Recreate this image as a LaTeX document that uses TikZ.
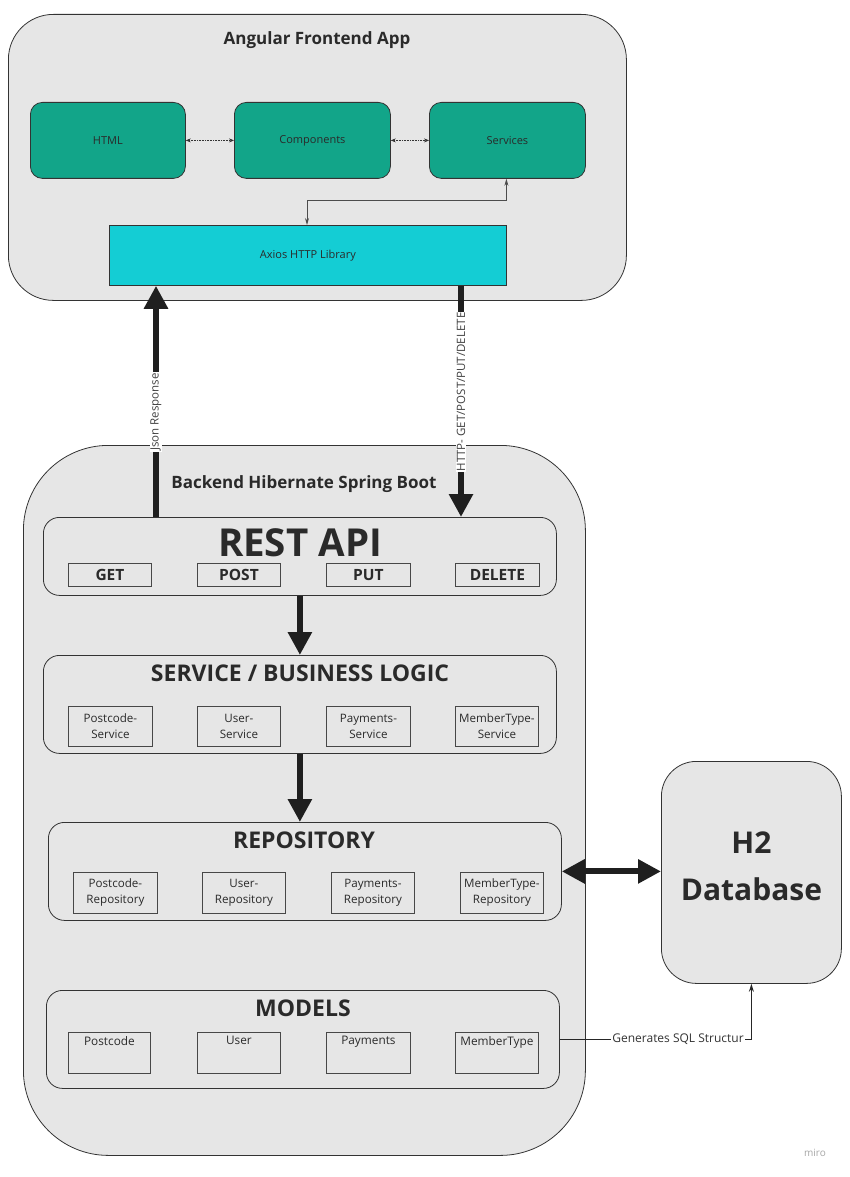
\documentclass[tikz,border=0pt]{standalone}
\usepackage{fontspec}
\setmainfont{Open Sans}
\usetikzlibrary{arrows.meta}
\definecolor{bgfill}{HTML}{E6E6E6}
\definecolor{edgec}{HTML}{333333}
\definecolor{greenfill}{HTML}{12A589}
\definecolor{cyanfill}{HTML}{14CDD4}
\definecolor{txtc}{HTML}{2A2A2A}
\begin{document}
\begin{tikzpicture}[x=1pt,y=-1pt,
  box/.style={draw=edgec, line width=0.8pt, inner sep=0pt, anchor=north west},
  group/.style={box, fill=bgfill},
  layer/.style={box, fill=bgfill, rounded corners=16pt},
  greenbox/.style={box, fill=greenfill, rounded corners=12pt, minimum width=156pt, minimum height=76pt, font=\fontsize{11}{13}\selectfont, text=txtc},
  subbox/.style={box, draw=edgec!90, line width=0.9pt, minimum width=83pt, minimum height=40pt, align=center, font=\fontsize{11.6}{16}\selectfont, text=txtc},
  verbbox/.style={box, draw=edgec!90, line width=0.9pt, minimum width=84pt, minimum height=23pt, font=\bfseries\fontsize{15.5}{17}\selectfont, text=txtc},
  titletext/.style={font=\bfseries\fontsize{17}{20}\selectfont, text=txtc},
  layertitle/.style={font=\bfseries\fontsize{23}{26}\selectfont, text=txtc},
  modeltext/.style={anchor=north, inner sep=0pt, font=\fontsize{11.8}{13}\selectfont, text=txtc},
  bigarrow/.style={line width=6pt, draw=black!88, -{Triangle[width=23pt,length=23pt]}},
  bigdouble/.style={line width=6pt, draw=black!88, {Triangle[width=23pt,length=23pt]}-{Triangle[width=23pt,length=23pt]}},
  dotarrow/.style={line width=0.6pt, draw=black!80, densely dotted, {Stealth[length=5pt,width=4pt]}-{Stealth[length=5pt,width=4pt]}},
  thinarrow/.style={line width=0.8pt, draw=black!70, {Stealth[length=7pt,width=4pt]}-{Stealth[length=7pt,width=4pt]}},
  sqlarrow/.style={line width=1.2pt, draw=black!85, -{Stealth[length=8pt,width=5pt]}},
  vlabel/.style={rotate=90, fill=white, inner sep=1pt, font=\fontsize{11.5}{13}\selectfont, text=black!75}
]
\useasboundingbox (0,0) rectangle (849,1177);

% ---------------- Frontend ----------------
\node[group, rounded corners=45pt, minimum width=618pt, minimum height=286pt] (front) at (8,14) {};
\node[titletext] (fronttitle) at (317,40) {Angular Frontend App};
\node[greenbox, minimum width=155pt] (html) at (30,102) {HTML};
\node[greenbox] (comp) at (234,102) {Components};
\node[greenbox] (serv) at (429,102) {Services};
\node[box, fill=cyanfill, minimum width=397pt, minimum height=60pt, font=\fontsize{11}{13}\selectfont, text=txtc] (axios) at (109,225) {Axios HTTP Library};

\draw[dotarrow] (html.east) -- (comp.west);
\draw[dotarrow] (comp.east) -- (serv.west);
\draw[thinarrow] ([xshift=198pt]axios.north west) -- ++(0,-25) -| ([xshift=-1pt]serv.south);

% ---------------- Backend ----------------
\node[group, rounded corners=85pt, minimum width=562pt, minimum height=710pt] (back) at (23,445) {};
\node[titletext] (backtitle) at (304,484) {Backend Hibernate Spring Boot};

% REST API
\node[layer, minimum width=513pt, minimum height=78pt] (rest) at (43,517) {};
\node[font=\bfseries\fontsize{38.5}{40}\selectfont, text=txtc] (resttitle) at (300,543) {REST API};
\node[verbbox, minimum width=83pt] (get) at (68,563) {GET};
\node[verbbox, minimum width=83pt] (post) at (197,563) {POST};
\node[verbbox] (put) at (326,563) {PUT};
\node[verbbox] (delete) at (455,563) {DELETE};

% Service layer
\node[layer, minimum width=513pt, minimum height=98pt] (service) at (43,655) {};
\node[layertitle] (servicetitle) at (300,673) {SERVICE / BUSINESS LOGIC};
\node[subbox, minimum width=84pt] (s1) at (68,706) {Postcode-\\Service};
\node[subbox] (s2) at (197,706) {User-\\Service};
\node[subbox, minimum width=84pt] (s3) at (326,706) {Payments-\\Service};
\node[subbox] (s4) at (455,706) {MemberType-\\Service};

% Repository layer
\node[layer, minimum width=513pt, minimum height=98pt] (repo) at (48,822) {};
\node[layertitle] (repotitle) at (304,840) {REPOSITORY};
\node[subbox, minimum width=84pt, minimum height=41pt] (r1) at (73,872) {Postcode-\\Repository};
\node[subbox, minimum height=41pt] (r2) at (202,872) {User-\\Repository};
\node[subbox, minimum height=41pt] (r3) at (331,872) {Payments-\\Repository};
\node[subbox, minimum height=41pt] (r4) at (460,872) {MemberType-\\Repository};

% Models layer
\node[layer, minimum width=513pt, minimum height=98pt] (models) at (46,990) {};
\node[layertitle] (modelstitle) at (303,1008) {MODELS};
\node[subbox, minimum width=82pt, minimum height=41pt] (m1) at (68,1032) {};
\node[subbox, minimum height=41pt] (m2) at (197,1032) {};
\node[subbox, minimum width=84pt, minimum height=41pt] (m3) at (326,1032) {};
\node[subbox, minimum height=41pt] (m4) at (455,1032) {};
\node[modeltext] (m1t) at ([yshift=-4pt]m1.north) {Postcode};
\node[modeltext] (m2t) at ([yshift=-4pt]m2.north) {User};
\node[modeltext] (m3t) at ([yshift=-4pt]m3.north) {Payments};
\node[modeltext] (m4t) at ([yshift=-4pt]m4.north) {MemberType};

% H2 database
\node[box, fill=bgfill, rounded corners=35pt, minimum width=180pt, minimum height=222pt] (h2) at (661,761) {};
\node[align=center, font=\bfseries\fontsize{30}{47}\selectfont, text=txtc] (h2text) at ([yshift=6pt]h2.center) {H2\\Database};

% ---------------- Connectors ----------------
\draw[bigarrow] ([xshift=113pt]rest.north west) -- ([xshift=47pt]axios.south west);
\draw[bigarrow] ([xshift=352pt]axios.south west) -- ([xshift=418pt]rest.north west);
\node[vlabel] (jsonlabel) at (156,412) {Json Response};
\node[vlabel] (httplabel) at (461,392) {HTTP- GET/POST/PUT/DELETE};

\draw[bigarrow] (rest.south) -- (service.north);
\draw[bigarrow] (service.south) -- (service.south |- repo.north);
\draw[bigdouble] (repo.east) -- (h2.west |- repo.east);
\draw[sqlarrow] (models.east) -| (h2.south);
\node[fill=white, inner sep=1.5pt, font=\fontsize{12}{14}\selectfont, text=black!80] (sqllabel) at (678,1039) {Generates SQL Structur};

\node[font=\fontsize{10}{12}\selectfont, text=black!35] (miro) at (815,1153) {miro};
\end{tikzpicture}
\end{document}
